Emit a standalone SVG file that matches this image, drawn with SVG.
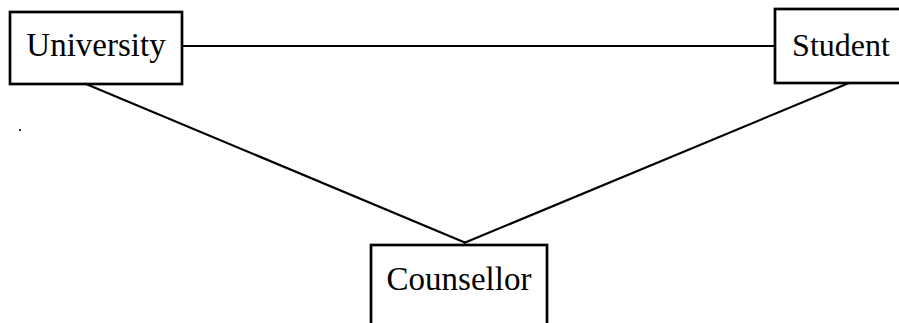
<svg xmlns="http://www.w3.org/2000/svg" width="899" height="323" viewBox="0 0 899 323">
<style>
.box{fill:#fff;stroke:#000;stroke-width:2.7}
.lbl{font-family:"Liberation Serif","Times New Roman",serif;font-size:33px;fill:#000;text-anchor:middle}
.edge{stroke:#000;stroke-width:2.2;fill:none}
</style>
<rect width="899" height="323" fill="#fff"/>
<g id="connectors">
<line class="edge" x1="182" y1="46" x2="775" y2="46"/>
<line class="edge" x1="86" y1="84" x2="466" y2="243"/>
<line class="edge" x1="849" y1="83" x2="464" y2="243"/>
</g>
<g id="university">
<rect class="box" x="10" y="12" width="172" height="72"/>
<text class="lbl" x="96" y="56">University</text>
</g>
<g id="student">
<rect class="box" x="775" y="9" width="135" height="74"/>
<text class="lbl" x="841" y="56" style="font-size:32px">Student</text>
</g>
<g id="counsellor">
<rect class="box" x="371" y="245" width="176" height="85"/>
<text class="lbl" x="459" y="290">Counsellor</text>
</g>
<rect x="19" y="129" width="2" height="2" fill="#333"/>
</svg>
